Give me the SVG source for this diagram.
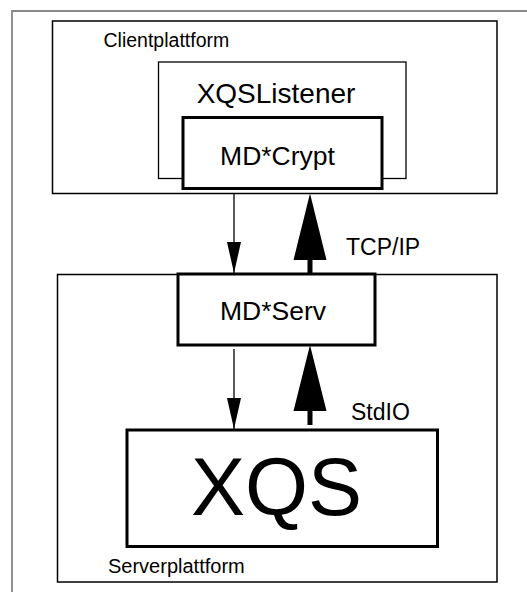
<svg xmlns="http://www.w3.org/2000/svg" width="527" height="592" viewBox="0 0 527 592">
<style>
  text { font-family: "Liberation Sans", Arial, sans-serif; fill: #000; }
  .thin { fill: none; stroke: #000; stroke-width: 1.5; }
  .thick { fill: #fff; stroke: #000; stroke-width: 3; }
  .conn { stroke: #000; fill: none; }
</style>
<defs>
  <marker id="headThin" markerUnits="userSpaceOnUse" markerWidth="31" markerHeight="14" viewBox="0 0 31 14" refX="31" refY="7" orient="auto">
    <path d="M0,0 L31,7 L0,14 Z" fill="#000"/>
  </marker>
</defs>
<rect width="527" height="592" fill="#fff"/>
<path d="M12,592 L12,11 L527,11" fill="none" stroke="#888" stroke-width="1.8"/>

<g id="clientplattform">
  <rect class="thin" x="52.5" y="21" width="444.5" height="172.5"/>
  <text x="103.5" y="46.5" font-size="19.5">Clientplattform</text>
</g>
<g id="xqslistener">
  <rect x="158.5" y="62" width="247.5" height="116.5" fill="none" stroke="#000" stroke-width="1.3"/>
  <text x="276" y="102.5" font-size="28" text-anchor="middle">XQSListener</text>
</g>
<g id="mdcrypt">
  <rect class="thick" x="183" y="117.5" width="199" height="71"/>
  <text x="277.5" y="164.5" font-size="26.5" text-anchor="middle">MD*Crypt</text>
</g>
<g id="serverplattform">
  <rect class="thin" x="57.5" y="274.5" width="439.5" height="307.5"/>
  <text x="108" y="572.5" font-size="20">Serverplattform</text>
</g>
<g id="mdserv">
  <rect class="thick" x="178" y="274" width="197" height="71"/>
  <text x="273" y="319.5" font-size="26.5" text-anchor="middle">MD*Serv</text>
</g>
<g id="xqs">
  <rect class="thick" x="127" y="430" width="310.5" height="116.5"/>
  <text x="276.5" y="515" font-size="81" text-anchor="middle">XQS</text>
</g>

<g id="connectors">
  <line class="conn" x1="234" y1="194" x2="234" y2="273" stroke-width="1.3" marker-end="url(#headThin)"/>
  <line class="conn" x1="234" y1="349" x2="234" y2="429" stroke-width="1.3" marker-end="url(#headThin)"/>
  <line class="conn" x1="310" y1="274" x2="310" y2="255" stroke-width="5"/>
  <path d="M310,193.5 L326.5,260 L293.5,260 Z" fill="#000"/>
  <line class="conn" x1="310" y1="425" x2="310" y2="405" stroke-width="5"/>
  <path d="M310,345 L326.5,411 L293.5,411 Z" fill="#000"/>
  <text x="346" y="254.5" font-size="23">TCP/IP</text>
  <text x="351" y="419.5" font-size="23">StdIO</text>
</g>
</svg>
